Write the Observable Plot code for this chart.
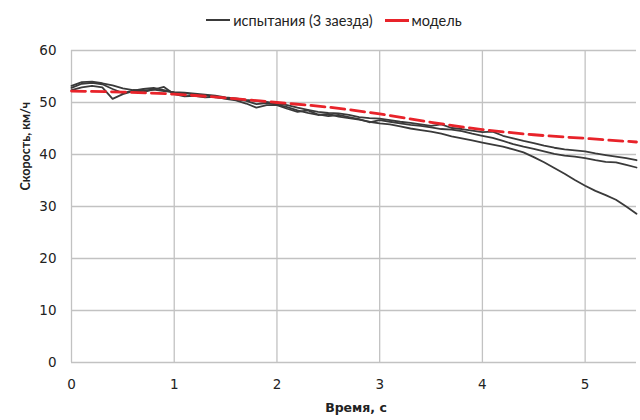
<!DOCTYPE html>
<html><head><meta charset="utf-8">
<script src="https://cdn.jsdelivr.net/npm/d3@7"></script>
<script src="https://cdn.jsdelivr.net/npm/@observablehq/plot@0.6"></script>
<style>
body{margin:0;background:#fff;font-family:Lato,"Open Sans",sans-serif;}
#legend{height:38px;display:flex;justify-content:center;align-items:center;font-size:14.5px;color:#222;padding-left:28px;box-sizing:border-box;padding-top:2px;}
#legend .item{display:flex;align-items:center;margin:0 6px;}
#legend .sw{display:inline-block;width:24px;height:0;margin-right:3px;}
</style></head>
<body>
<div id="legend">
  <span class="item"><span class="sw" style="border-top:2px solid #3a3a3a"></span>испытания (3 заезда)</span>
  <span class="item"><span class="sw" style="border-top:3px solid #e8232a"></span>модель</span>
</div>
<div id="chart"></div>
<script>
const xTicks = [0, 1, 2, 3, 4, 5];
const yTicks = [0, 10, 20, 30, 40, 50, 60];
const xTitle = "Время, с";
const yTitle = "Скорость, км/ч";

const time = [0.0,0.1,0.2,0.3,0.4,0.5,0.6,0.7,0.8,0.9,1.0,1.1,1.2,1.3,1.4,1.5,1.6,1.7,1.8,1.9,2.0,2.1,2.2,2.3,2.4,2.5,2.6,2.7,2.8,2.9,3.0,3.1,3.2,3.3,3.4,3.5,3.6,3.7,3.8,3.9,4.0,4.1,4.2,4.3,4.4,4.5,4.6,4.7,4.8,4.9,5.0,5.1,5.2,5.3,5.4,5.5];

const run1 = [52.8,53.6,53.8,53.5,52.6,51.8,52.3,52.6,52.8,52.4,51.9,51.8,51.5,51.4,51.0,50.9,50.6,50.3,49.7,49.9,49.6,49.1,48.5,48.0,47.6,47.8,47.3,47.0,46.7,46.3,46.0,45.8,45.4,45.0,44.7,44.4,44.0,43.5,43.1,42.7,42.3,41.9,41.5,41.0,40.4,39.5,38.5,37.4,36.3,35.1,34.0,33.0,32.2,31.3,30.0,28.6];
const run2 = [53.2,53.9,54.0,53.7,53.3,52.7,52.4,52.3,52.5,52.2,52.0,51.9,51.7,51.5,51.3,51.0,50.8,50.5,50.3,50.1,49.8,49.5,49.0,48.6,48.2,48.0,47.9,47.6,47.2,47.0,46.9,46.6,46.3,46.1,45.8,45.5,45.8,45.1,44.9,44.6,44.3,44.4,43.6,43.1,42.6,42.2,41.7,41.3,41.0,40.8,40.6,40.2,39.9,39.6,39.3,38.9];
const run3 = [52.4,52.9,53.2,52.9,50.7,51.6,52.2,52.0,52.5,53.0,51.6,51.2,51.3,51.0,51.1,50.7,50.4,49.8,49.0,49.5,49.5,48.8,48.2,48.5,47.7,47.4,47.6,47.2,46.8,46.2,46.6,46.3,46.0,45.7,45.5,45.2,44.9,44.8,44.5,44.0,43.6,43.2,42.6,42.0,41.5,41.1,40.6,40.1,39.8,39.6,39.3,38.9,38.6,38.5,38.0,37.5];

const modelTime = [0,0.5,1,1.5,2,2.5,3,3.5,4,4.5,5,5.5];
const modelSpeed = [52.2,52.0,51.6,50.9,50.0,49.1,47.8,46.2,44.8,43.8,43.1,42.4];

const runs = [run1, run2, run3].flatMap((r, k) => r.map((v, i) => ({t: time[i], v, run: k})));
const model = modelTime.map((t, i) => ({t, v: modelSpeed[i]}));

const chart = Plot.plot({
  width: 640, height: 382,
  marginTop: 12, marginBottom: 58, marginLeft: 71, marginRight: 4,
  style: {fontFamily: "'DejaVu Sans', Lato, sans-serif", fontSize: "13.5px", color: "#222", background: "#fff"},
  x: {domain: [0, 5.5]},
  y: {domain: [0, 60]},
  marks: [
    Plot.gridX(xTicks, {stroke: "#c2c2c2", strokeOpacity: 1, strokeWidth: 1.3}),
    Plot.gridY(yTicks, {stroke: "#c2c2c2", strokeOpacity: 1, strokeWidth: 1.3}),
    Plot.axisX(xTicks, {tickSize: 0, tickPadding: 17, fontSize: 13.5, label: null}),
    Plot.axisY(yTicks, {tickSize: 0, tickPadding: 15, fontSize: 13.5, label: null}),
    Plot.text([xTitle], {frameAnchor: "bottom", dy: 49, dx: 2, fontSize: 12.5, fontWeight: "bold", fill: "#222", fontFamily: "'DejaVu Sans', Lato, sans-serif"}),
    Plot.text([yTitle], {frameAnchor: "left", dx: -46, dy: -16, rotate: -90, fontSize: 12.5, fontWeight: "bold", fill: "#222", fontFamily: "'Liberation Sans Narrow', Lato, sans-serif"}),
    Plot.line(runs, {x: "t", y: "v", z: "run", stroke: "#3a3a3a", strokeWidth: 1.8}),
    Plot.line(model, {x: "t", y: "v", stroke: "#e8232a", strokeWidth: 2.8, strokeDasharray: "14,6", curve: "monotone-x"})
  ]
});
document.getElementById("chart").append(chart);
</script>
</body></html>
